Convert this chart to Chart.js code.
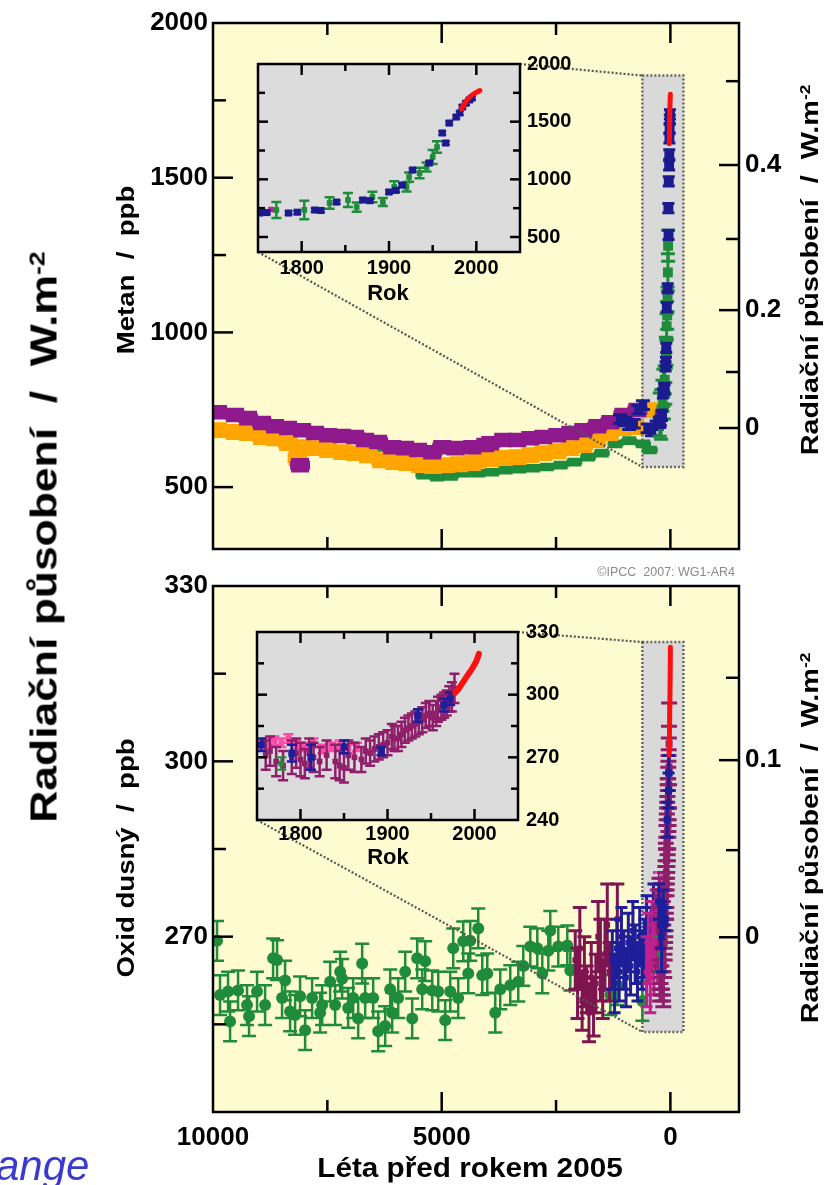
<!DOCTYPE html>
<html><head><meta charset="utf-8">
<script src="https://cdn.jsdelivr.net/npm/chart.js@4.4.1/dist/chart.umd.min.js"></script>
<style>
html,body{margin:0;padding:0;background:#fff;width:829px;height:1185px;overflow:hidden;position:relative;}
canvas{position:absolute;}
.t{position:absolute;font-family:'Liberation Sans',Arial,Helvetica,sans-serif;font-weight:bold;color:#000;white-space:pre;line-height:1;}
.rot{transform:translate(-50%,-50%) rotate(-90deg) scaleX(1.2);}
.ctr{transform:translate(-50%,-50%);}
.ctrw{transform:translate(-50%,-50%) scaleX(1.1);}
sup{font-size:60%;vertical-align:0.55em;line-height:0;}
</style></head><body>
<canvas id="cTop" width="829" height="580" style="left:0;top:0"></canvas>
<canvas id="cBot" width="829" height="625" style="left:0;top:560px"></canvas>
<canvas id="iTop" width="400" height="290" style="left:200px;top:40px"></canvas>
<canvas id="iBot" width="400" height="300" style="left:200px;top:600px"></canvas>

<div class="t rot" style="left:44px;top:537px;font-size:37px">Radiační působení  /  W.m<sup>-2</sup></div>
<div class="t rot" style="left:126px;top:270px;font-size:23px">Metan  /  ppb</div>
<div class="t rot" style="left:126px;top:858px;font-size:23px">Oxid dusný  /  ppb</div>
<div class="t rot" style="left:810px;top:270px;font-size:24px">Radiační působení  /  W.m<sup>-2</sup></div>
<div class="t rot" style="left:810px;top:838px;font-size:24px">Radiační působení  /  W.m<sup>-2</sup></div>
<div class="t ctr" style="left:388px;top:293px;font-size:22px">Rok</div>
<div class="t ctr" style="left:388px;top:857px;font-size:22px">Rok</div>
<div class="t ctrw" style="left:470px;top:1168px;font-size:27px">Léta před rokem 2005</div>
<div class="t" style="right:94px;top:566px;font-size:12.5px;font-weight:normal;color:#8a8a8a">©IPCC  2007: WG1-AR4</div>
<div class="t" style="left:-4px;top:1145px;font-size:42px;font-weight:normal;font-style:italic;color:#3a3ad0">ange</div>

<script>
// ---------------- tick values / labels ----------------
const mainXTicks = [10000, 7500, 5000, 2500, 0];
const mainXLabels = ['10000', '', '5000', '', '0'];
const ch4Ticks = [500, 1000, 1250, 1500, 1750, 2000];
const ch4Labels = ['500', '1000', '', '1500', '', '2000'];
const ch4RfTickPpb = [1812, 1541, 1302, 1072, 872, 691];
const ch4RfLabels = ['', '0.4', '', '0.2', '', '0'];
const n2oTicks = [255, 270, 285, 300, 315, 330];
const n2oLabels = ['', '270', '', '300', '', '330'];
const n2oRfTickPpb = [314.3, 300.2, 284.8, 269.9];
const n2oRfLabels = ['', '0.1', '', '0'];
const insetXTicks = [1800, 1850, 1900, 1950, 2000];
const insetXLabels = ['1800', '', '1900', '', '2000'];
const ch4InsetTicks = [500, 750, 1000, 1250, 1500, 1750, 2000];
const ch4InsetLabels = ['500', '', '1000', '', '1500', '', '2000'];
const n2oInsetTicks = [240, 255, 270, 285, 300, 315, 330];
const n2oInsetLabels = ['240', '', '270', '', '300', '', '330'];

// highlight boxes [BP left, BP right, ppb low, ppb high]
const ch4Box = [613, -285, 565, 1830];
const n2oBox = [613, -285, 253.7, 320.4];

// ---------------- METHANE (ppb) ----------------
const ch4OrangeBP = [9890,9518,9233,8927,8643,8358,8150,8052,7767,7483,7177,6892,6608,6323,6039,5754,5470,5186,4901,4617,4332,4223,3938,3654,3348,3063,2779,2473,2188,1904,1619,1335,1050,766,438];
const ch4OrangeVal = [684,678,675,662,658,642,594,629,626,620,613,610,603,587,581,578,571,568,571,574,578,587,590,594,597,603,610,616,626,636,652,675,691,694,749];
const ch4PurpleBP = [9890,9518,9233,8927,8643,8358,8096,8052,7767,7483,7177,6892,6673,6389,6083,5798,5514,5208,4989,4704,4332,4048,3938,3654,3348,3063,2779,2473,2188,1904,1597,1313,1028,722];
const ch4PurpleVal = [742,733,723,707,697,691,571,684,675,668,665,662,652,646,629,626,620,613,629,626,629,636,642,652,652,658,662,668,675,684,697,710,733,749];
const ch4GreenBP = [6700,6400,6100,5400,5100,4800,4500,4200,3900,3600,3300,3000,2700,2400,2100,1800,1500,1200,900,600,450];
const ch4GreenVal = [633,628,622,539,532,535,545,545,548,555,558,561,565,571,581,597,610,640,650,640,620];
const ch4NavyBP = [1100,1000,900,800,700,600,500,400,300];
const ch4NavyVal = [720,712,700,705,750,765,690,680,700];
// recent methane (calendar years)
const ch4NavyYears = [1752,1760,1785,1795,1815,1822,1840,1870,1878,1900,1908,1915,1927,1946,1961,1965,1969,1977,1981,1984,1988,1992,1995];
const ch4NavyYearVal = [708,712,708,715,734,730,803,821,815,890,905,950,1081,1142,1402,1315,1488,1540,1575,1627,1660,1688,1705];
const ch4GreenYears = [1771,1803,1832,1853,1863,1881,1893,1906,1920,1923,1935,1943,1950,1955];
const ch4GreenYearVal = [734,735,795,821,760,847,803,934,934,1020,1055,1107,1194,1280];
const ch4GreenYearErr = [70,80,50,60,40,45,35,50,40,40,45,40,60,50];
const ch4MagentaYears = [1755,1765];
const ch4MagentaVal = [725,738];
const ch4RedYears = [1983,1986,1989,1992,1995,1998,2001,2004];
const ch4RedVal = [1610,1650,1685,1710,1730,1745,1757,1770];

// ---------------- NITROUS OXIDE (ppb) ----------------
const n2oGreenBP = [9912,9846,9671,9627,9452,9256,9212,9037,8861,8686,8599,8490,8424,8314,8205,8096,7986,7833,7658,7614,7439,7330,7220,7177,7045,6936,6826,6739,6673,6498,6389,6236,6126,6083,5951,5798,5645,5536,5426,5361,5207,5076,4923,4814,4748,4639,4529,4420,4376,4201,4113,4004,3829,3720,3501,3326,3216,3063,2910,2801,2669,2626,2451,2254,2188,1313,1160,613];
const n2oGreenVal = [269.3,260,260.6,255.5,260.8,258.3,256.4,260.6,258.3,266.3,266,259.5,262.5,257.2,256.6,259.8,254,259.5,257,258.3,262.3,258.3,264,262.8,257.8,259.5,256,265.4,259.5,259.5,253.8,254.7,261,257,259.5,264,256,266.3,261,265.8,260.8,260.6,255.7,260.6,268,259.5,269.2,263.7,269.3,271.4,263.4,263.7,257,261,261.7,262.3,265,268.3,268,263.7,267.6,271,268.3,268.5,264.2,260,261.7,259];
const n2oMaroonBP = [2080,2030,1980,1930,1880,1830,1780,1730,1680,1630,1580,1530,1480,1430,1380,1330,1160];
const n2oMaroonVal = [266,262,268,259,264,261,257,263,258,262,270,266,261,267,272,264,273];
const n2oMaroonErr = [5,6,7,5,6,4,5,6,5,5,6,7,5,6,7,5,6];
const n2oNavyBP = [1270,1220,1170,1120,1070,1020,970,920,870,820,770,720,670,620,570,520,470,420,370,320,270,240];
const n2oNavyVal = [266,262,268,264,270,266,263,269,265,271,267,264,270,266,268,272,267,270,274,269,272,276];
const n2oMagentaBP = [520,480,440,400,360,320,280];
const n2oMagentaVal = [264,268,263,270,266,272,268];
// recent nitrous oxide (calendar years)
const n2oPinkYears = [1755,1762,1770,1778,1786,1795,1805,1815,1825,1835,1845,1855,1865];
const n2oPinkVal = [276,277,278,277,279,276,275,277,274,275,276,274,275];
const n2oPurpleYears = [1760,1765,1772,1780,1790,1795,1800,1805,1810,1815,1822,1830,1840,1845,1850,1855,1862,1870,1875,1880,1885,1890,1895,1900,1905,1908,1912,1916,1920,1924,1928,1932,1936,1940,1944,1948,1952,1956,1958,1962,1965,1968,1971,1974,1977];
const n2oPurpleVal = [271,273,268,266,270,272,269,267,272,270,268,271,268,266,265,271,270,269,273,272,274,275,276,277,280,279,279,281,283,284,285,286,287,288,290,291,289,291,293,294,295,296,298,299,303];
const n2oPurpleErr = [7,7,7,7,8,7,8,7,7,7,7,7,8,7,7,7,7,6,6,6,6,6,6,6,6,6,6,6,6,6,6,6,6,6,6,6,6,6,6,6,6,6,6,7,7];
const n2oBlueYears = [1755,1790,1812,1850,1893,1935,1965,1972];
const n2oBlueVal = [276,272,270,275,273,290,295,298];
const n2oBlueErr = [3,4,6,3,2,3,3,3];
const n2oGreenYears = [1778];
const n2oGreenYearVal = [267];
const n2oRedYears = [1978,1982,1986,1990,1994,1998,2002,2005];
const n2oRedVal = [301,303,305.5,308,310.5,313,316,319.5];

// ---------------- helpers ----------------
const F = "'Liberation Sans', Arial, Helvetica, sans-serif";
const REF = 2005;
const pts = (xs, ys) => xs.map((x, i) => ({x: x, y: ys[i]}));
const bp = yrs => yrs.map(y => REF - y);

function ds(data, color, o) {
  return Object.assign({data: data, backgroundColor: color, borderColor: color, pointBorderColor: color,
    pointBorderWidth: 0, pointStyle: 'rect', pointRadius: 5, showLine: false, order: 5}, o || {});
}
function bar(data, color, w, thick, o) {   // wide flat markers
  return ds(data, color, Object.assign({pointStyle: 'line', pointRadius: w, pointBorderWidth: thick}, o));
}
function line(data, color, w, order) {
  return {data: data, borderColor: color, backgroundColor: color, showLine: true, pointRadius: 0,
    borderWidth: w, order: order, borderCapStyle: 'round', tension: 0.3};
}
function yAxis(pos, min, max, vals, labels, width, pad, size, show) {
  return {type: 'linear', position: pos, min: min, max: max,
    grid: {display: false, drawTicks: false}, border: {display: false},
    afterBuildTicks: s => { s.ticks = vals.map(v => ({value: v})); },
    afterFit: s => { s.width = width; },
    ticks: {display: show, autoSkip: false, padding: pad, color: '#000',
      font: {family: F, size: size, weight: 'bold'}, callback: (v, i) => labels[i]}};
}
function xAxis(min, max, reverse, vals, labels, height, pad, size, show) {
  return {type: 'linear', position: 'bottom', min: min, max: max, reverse: reverse,
    grid: {display: false, drawTicks: false}, border: {display: false},
    afterBuildTicks: s => { s.ticks = vals.map(v => ({value: v})); },
    afterFit: s => { s.height = height; },
    ticks: {display: show, autoSkip: false, maxRotation: 0, padding: pad, color: '#000',
      font: {family: F, size: size, weight: 'bold'}, callback: (v, i) => labels[i]}};
}

// per-canvas frame settings
const FRAME = {};

const framePlugin = {
  id: 'frame',
  beforeDatasetsDraw(chart) {
    const o = FRAME[chart.canvas.id]; if (!o) return;
    const {ctx, chartArea: a} = chart;
    ctx.save();
    ctx.fillStyle = o.bg;
    ctx.fillRect(a.left, a.top, a.right - a.left, a.bottom - a.top);
    if (o.box) {
      const x = chart.scales.x, y = chart.scales.y;
      const x1 = x.getPixelForValue(o.box[0]), x2 = x.getPixelForValue(o.box[1]);
      const y1 = y.getPixelForValue(o.box[3]), y2 = y.getPixelForValue(o.box[2]);
      ctx.fillStyle = '#d9d9d9';
      ctx.fillRect(x1, y1, x2 - x1, y2 - y1);
      ctx.setLineDash([2, 2]); ctx.strokeStyle = '#666'; ctx.lineWidth = 2.5;
      ctx.strokeRect(x1, y1, x2 - x1, y2 - y1);
    }
    ctx.restore();
  },
  afterDatasetsDraw(chart) {
    const o = FRAME[chart.canvas.id]; if (!o || !o.links) return;
    const {ctx} = chart; const x = chart.scales.x, y = chart.scales.y;
    ctx.save();
    ctx.setLineDash([2, 2]); ctx.strokeStyle = '#555'; ctx.lineWidth = 2.2;
    o.links.forEach(l => {
      ctx.beginPath();
      ctx.moveTo(l.px[0], l.px[1]);
      ctx.lineTo(x.getPixelForValue(l.bx), y.getPixelForValue(l.by));
      ctx.stroke();
    });
    ctx.restore();
  },
  afterDraw(chart) {
    const o = FRAME[chart.canvas.id]; if (!o) return;
    const {ctx, chartArea: a} = chart;
    ctx.save();
    ctx.setLineDash([]); ctx.strokeStyle = '#000'; ctx.lineWidth = o.lw; ctx.lineCap = 'butt';
    Object.keys(o.ticks).forEach(id => {
      const s = chart.scales[id], c = o.ticks[id];
      const horiz = s.isHorizontal();
      s.ticks.forEach(t => {
        const p = s.getPixelForValue(t.value);
        if (horiz ? (p < a.left + 3 || p > a.right - 3) : (p < a.top + 3 || p > a.bottom - 3)) return;
        const len = (t.label !== '' && t.label != null) ? c.major : c.minor;
        c.sides.forEach(side => {
          ctx.beginPath();
          if (side === 'left') { ctx.moveTo(a.left, p); ctx.lineTo(a.left + len, p); }
          if (side === 'right') { ctx.moveTo(a.right, p); ctx.lineTo(a.right - len, p); }
          if (side === 'top') { ctx.moveTo(p, a.top); ctx.lineTo(p, a.top + len); }
          if (side === 'bottom') { ctx.moveTo(p, a.bottom); ctx.lineTo(p, a.bottom - len); }
          ctx.stroke();
        });
      });
    });
    ctx.strokeRect(a.left, a.top, a.right - a.left, a.bottom - a.top);
    ctx.restore();
  }
};

const errPlugin = {
  id: 'errbars',
  beforeDatasetDraw(chart, args) {
    const d = chart.data.datasets[args.index];
    if (d.err == null) return;
    const meta = args.meta, ys = chart.scales[meta.yAxisID];
    const {ctx, chartArea: a} = chart;
    ctx.save();
    ctx.beginPath(); ctx.rect(a.left, a.top, a.right - a.left, a.bottom - a.top); ctx.clip();
    ctx.strokeStyle = d.errColor || d.borderColor; ctx.lineWidth = d.errWidth || 2;
    const cap = d.cap == null ? 6 : d.cap;
    meta.data.forEach((el, i) => {
      const e = Array.isArray(d.err) ? d.err[i] : d.err;
      const v = d.data[i].y;
      const y1 = ys.getPixelForValue(v + e), y2 = ys.getPixelForValue(v - e);
      const x = el.x;
      ctx.beginPath();
      ctx.moveTo(x, y1); ctx.lineTo(x, y2);
      ctx.moveTo(x - cap, y1); ctx.lineTo(x + cap, y1);
      ctx.moveTo(x - cap, y2); ctx.lineTo(x + cap, y2);
      ctx.stroke();
    });
    ctx.restore();
  }
};

const baseOpts = (pad) => ({
  responsive: false, animation: false, devicePixelRatio: 1,
  layout: {padding: pad},
  plugins: {legend: {display: false}, tooltip: {enabled: false}}
});

const C = {orange: '#ffa500', purple: '#8e1a8e', green: '#1f8c3b', navy: '#1b1b8f', red: '#ff1010',
  magenta: '#c0208c', maroon: '#7e1450', n2oPurple: '#8f1f6a', pink: '#ff4aa8', blue: '#1e1e9a'};

// ---------------- inset: methane ----------------
FRAME.iTop = {bg: '#dcdcdc', lw: 2.5, ticks: {
  x: {sides: ['top', 'bottom'], major: 11, minor: 7},
  y: {sides: ['left', 'right'], major: 10, minor: 7}}};
const insetTop = new Chart(document.getElementById('iTop'), {
  type: 'scatter',
  data: {datasets: [
    ds(pts(ch4GreenYears, ch4GreenYearVal), C.green, {pointRadius: 4, err: ch4GreenYearErr, cap: 5, errWidth: 2.5, order: 4}),
    ds(pts(ch4NavyYears, ch4NavyYearVal), C.navy, {pointRadius: 5, err: 15, cap: 4, errWidth: 2, order: 3}),
    ds(pts(ch4MagentaYears, ch4MagentaVal), C.magenta, {pointRadius: 4, order: 3}),
    line(pts(ch4RedYears, ch4RedVal), C.red, 5, 1)
  ]},
  options: Object.assign(baseOpts({left: 58, top: 24, right: 0, bottom: 0}), {
    scales: {
      x: xAxis(1750, 2050, false, insetXTicks, insetXLabels, 78, 4, 20, true),
      y: yAxis('right', 370, 2000, ch4InsetTicks, ch4InsetLabels, 80, 7, 20, true)
    }}),
  plugins: [framePlugin, errPlugin]
});

// ---------------- inset: nitrous oxide ----------------
FRAME.iBot = {bg: '#dcdcdc', lw: 2.5, ticks: {
  x: {sides: ['top', 'bottom'], major: 11, minor: 7},
  y: {sides: ['left', 'right'], major: 10, minor: 7}}};
const insetBot = new Chart(document.getElementById('iBot'), {
  type: 'scatter',
  data: {datasets: [
    ds(pts(n2oPinkYears, n2oPinkVal), C.pink, {pointRadius: 4, err: 2, cap: 5, errWidth: 2.5, order: 5}),
    ds(pts(n2oPurpleYears, n2oPurpleVal), C.n2oPurple, {pointRadius: 4, err: n2oPurpleErr, cap: 5, errWidth: 2.5, order: 4}),
    ds(pts(n2oBlueYears, n2oBlueVal), C.blue, {pointRadius: 5, err: n2oBlueErr, cap: 5, errWidth: 2.5, order: 3}),
    ds(pts(n2oGreenYears, n2oGreenYearVal), C.green, {pointRadius: 4, err: 3, cap: 5, errWidth: 2, order: 3}),
    line(pts(n2oRedYears, n2oRedVal), C.red, 6, 1)
  ]},
  options: Object.assign(baseOpts({left: 57, top: 32, right: 0, bottom: 0}), {
    scales: {
      x: xAxis(1750, 2050, false, insetXTicks, insetXLabels, 80, 2, 20, true),
      y: yAxis('right', 240, 330, n2oInsetTicks, n2oInsetLabels, 82, 8, 20, true)
    }}),
  plugins: [framePlugin, errPlugin]
});

const iTa = insetTop.chartArea, iBa = insetBot.chartArea;

// ---------------- main: methane ----------------
FRAME.cTop = {bg: '#fffbd0', lw: 2.5, box: ch4Box,
  links: [{px: [200 + iTa.right, 40 + iTa.top], bx: ch4Box[0], by: ch4Box[3]},
          {px: [200 + iTa.left, 40 + iTa.bottom], bx: ch4Box[0], by: ch4Box[2]}],
  ticks: {x: {sides: ['top', 'bottom'], major: 20, minor: 12},
          y: {sides: ['left'], major: 20, minor: 13},
          y2: {sides: ['right'], major: 20, minor: 13}}};
new Chart(document.getElementById('cTop'), {
  type: 'scatter',
  data: {datasets: [
    bar(pts(ch4OrangeBP, ch4OrangeVal), C.orange, 10, 10, {err: 20, cap: 9, errWidth: 3.5, order: 8}),
    bar(pts(ch4PurpleBP, ch4PurpleVal), C.purple, 10, 9, {err: 17, cap: 9, errWidth: 4, order: 7}),
    bar(pts(ch4GreenBP, ch4GreenVal), C.green, 8, 5, {err: 10, cap: 7, errWidth: 2.5, order: 9}),
    ds(pts(ch4NavyBP, ch4NavyVal), C.navy, {pointRadius: 6, err: 14, cap: 7, errWidth: 3, order: 5}),
    ds(pts(bp(ch4GreenYears), ch4GreenYearVal), C.green, {pointRadius: 7, err: ch4GreenYearErr, cap: 7, errWidth: 3, order: 4}),
    ds(pts(bp(ch4NavyYears), ch4NavyYearVal), C.navy, {pointRadius: 7, err: 15, cap: 6, errWidth: 3, order: 3}),
    ds(pts(bp(ch4MagentaYears), ch4MagentaVal), C.magenta, {pointRadius: 5, order: 3}),
    line(pts(bp(ch4RedYears), ch4RedVal), C.red, 5, 1)
  ]},
  options: Object.assign(baseOpts({left: 0, top: 23, right: 0, bottom: 0}), {
    scales: {
      x: xAxis(-1500, 10000, true, mainXTicks, mainXLabels, 31, 10, 26, false),
      y: yAxis('left', 300, 2000, ch4Ticks, ch4Labels, 213, 5, 26, true),
      y2: yAxis('right', 300, 2000, ch4RfTickPpb, ch4RfLabels, 90, 6, 26, true)
    }}),
  plugins: [framePlugin, errPlugin]
});

// ---------------- main: nitrous oxide ----------------
FRAME.cBot = {bg: '#fffbd0', lw: 2.5, box: n2oBox,
  links: [{px: [200 + iBa.right, 600 + iBa.top - 560], bx: n2oBox[0], by: n2oBox[3]},
          {px: [200 + iBa.left, 600 + iBa.bottom - 560], bx: n2oBox[0], by: n2oBox[2]}],
  ticks: {x: {sides: ['top', 'bottom'], major: 20, minor: 12},
          y: {sides: ['left'], major: 20, minor: 13},
          y2: {sides: ['right'], major: 20, minor: 13}}};
new Chart(document.getElementById('cBot'), {
  type: 'scatter',
  data: {datasets: [
    ds(pts(n2oGreenBP, n2oGreenVal), C.green, {pointStyle: 'circle', pointRadius: 6, err: 3.4, cap: 7, errWidth: 2.5, order: 9}),
    ds(pts(n2oMaroonBP, n2oMaroonVal), C.maroon, {pointRadius: 4, err: n2oMaroonErr, cap: 7, errWidth: 3, order: 8}),
    ds(pts(n2oNavyBP, n2oNavyVal), C.blue, {pointRadius: 4, err: 5, cap: 6, errWidth: 3, order: 7}),
    ds(pts(n2oMagentaBP, n2oMagentaVal), C.magenta, {pointRadius: 4, err: 6, cap: 6, errWidth: 3, order: 6}),
    ds(pts(bp(n2oPinkYears), n2oPinkVal), C.pink, {pointRadius: 4, err: 2, cap: 6, errWidth: 3, order: 5}),
    ds(pts(bp(n2oPurpleYears), n2oPurpleVal), C.n2oPurple, {pointRadius: 5, err: n2oPurpleErr, cap: 8, errWidth: 3, order: 4}),
    ds(pts(bp(n2oBlueYears), n2oBlueVal), C.blue, {pointRadius: 5, err: n2oBlueErr, cap: 6, errWidth: 3, order: 3}),
    ds(pts(bp(n2oGreenYears), n2oGreenYearVal), C.green, {pointRadius: 4, err: 3, cap: 6, errWidth: 2, order: 3}),
    line(pts(bp(n2oRedYears), n2oRedVal), C.red, 5, 1)
  ]},
  options: Object.assign(baseOpts({left: 0, top: 26, right: 0, bottom: 0}), {
    scales: {
      x: xAxis(-1500, 10000, true, mainXTicks, mainXLabels, 73, 10, 26, true),
      y: yAxis('left', 240, 330, n2oTicks, n2oLabels, 213, 5, 26, true),
      y2: yAxis('right', 240, 330, n2oRfTickPpb, n2oRfLabels, 90, 6, 26, true)
    }}),
  plugins: [framePlugin, errPlugin]
});
</script>
</body></html>
